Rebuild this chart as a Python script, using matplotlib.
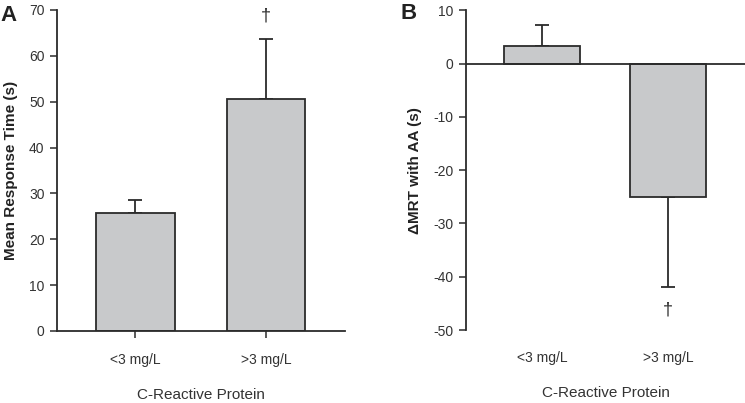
import matplotlib
matplotlib.use("Agg")
import matplotlib.pyplot as plt

plt.rcParams['font.family'] = ['Liberation Sans', 'DejaVu Sans']
plt.rcParams['axes.unicode_minus'] = False

categories = ["<3 mg/L", ">3 mg/L"]
mrt_values = [25.7, 50.6]
mrt_err = [2.8, 13.0]
delta_values = [3.25, -25.0]
delta_err = [4.05, 17.0]
yticks_a = [0, 10, 20, 30, 40, 50, 60, 70]
yticks_b = [10, 0, -10, -20, -30, -40, -50]

bar_color = "#c8c9cb"
edge = "#2b2b2b"
tick_col = "#333333"

fig = plt.figure(figsize=(7.45, 4.03), dpi=100)
axA = fig.add_axes([0.0765, 0.1787, 0.3866, 0.7965])
axB = fig.add_axes([0.6255, 0.1811, 0.3745, 0.7933])

x = list(range(len(categories)))

# Panel A
axA.bar(x, mrt_values, width=0.6, color=bar_color, edgecolor=edge, linewidth=1.3, zorder=2)
axA.errorbar(x, mrt_values, yerr=[[0, 0], mrt_err], fmt='none', ecolor=edge,
             elinewidth=1.3, capsize=5, capthick=1.3, zorder=1)
axA.set_xlim(-0.60, 1.605)
axA.set_ylim(0, 70)
axA.set_yticks(yticks_a)
axA.set_xticks(x)
axA.set_xticklabels(categories)
for s in ['top', 'right']:
    axA.spines[s].set_visible(False)
for s in ['left', 'bottom']:
    axA.spines[s].set_linewidth(1.3)
    axA.spines[s].set_color(edge)
axA.spines['bottom'].set_zorder(3)
axA.tick_params(axis='y', direction='out', length=5, width=1.1, colors=edge, labelcolor=tick_col, labelsize=10, pad=4)
axA.tick_params(axis='x', direction='out', length=5, width=1.1, colors=edge, labelcolor=tick_col, labelsize=10, pad=11)
axA.set_ylabel("Mean Response Time (s)", fontsize=11, fontweight='bold', color='#222222', labelpad=8)
axA.set_xlabel("C-Reactive Protein", fontsize=11, color=tick_col, labelpad=15)
axA.text(1, 68.6, "†", ha='center', va='center', fontsize=13, color=edge)
fig.text(0.0, 0.962, "A", fontsize=16, fontweight='bold', ha='left', va='center', color='#222222')

# Panel B
axB.bar(x, delta_values, width=0.6, color=bar_color, edgecolor=edge, linewidth=1.3, zorder=2)
axB.errorbar([x[0]], [delta_values[0]], yerr=[[0], [delta_err[0]]], fmt='none', ecolor=edge,
             elinewidth=1.3, capsize=5, capthick=1.3, zorder=1)
axB.errorbar([x[1]], [delta_values[1]], yerr=[[delta_err[1]], [0]], fmt='none', ecolor=edge,
             elinewidth=1.3, capsize=5, capthick=1.3, zorder=1)
axB.axhline(0, color=edge, linewidth=1.3, zorder=3)
axB.set_xlim(-0.603, 1.61)
axB.set_ylim(-50, 10)
axB.set_yticks(yticks_b)
axB.set_xticks(x)
axB.set_xticklabels(categories)
for s in ['top', 'right', 'bottom']:
    axB.spines[s].set_visible(False)
axB.spines['left'].set_linewidth(1.3)
axB.spines['left'].set_color(edge)
axB.tick_params(axis='y', direction='out', length=5, width=1.1, colors=edge, labelcolor=tick_col, labelsize=10, pad=4)
axB.tick_params(axis='x', length=0, labelcolor=tick_col, labelsize=10, pad=15)
axB.set_ylabel("ΔMRT with AA (s)", fontsize=11, fontweight='bold', color='#222222', labelpad=8)
axB.set_xlabel("C-Reactive Protein", fontsize=11, color=tick_col, labelpad=15)
axB.text(1, -46.3, "†", ha='center', va='center', fontsize=13, color=edge)
fig.text(0.537, 0.967, "B", fontsize=16, fontweight='bold', ha='left', va='center', color='#222222')

fig.savefig("out.png", dpi=100)
